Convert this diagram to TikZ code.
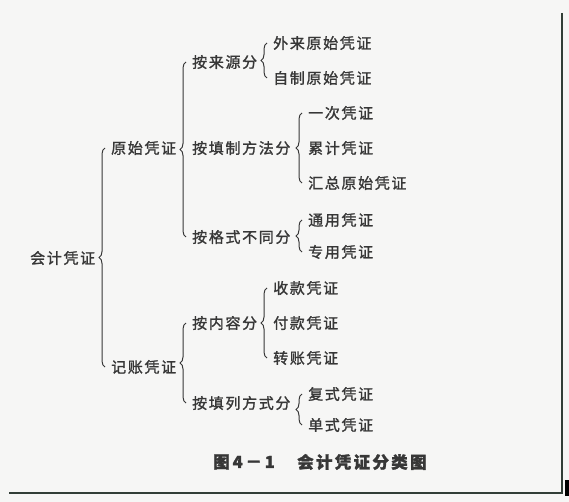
\documentclass[tikz,border=0pt]{standalone}
\usepackage{fontspec}
\newfontfamily\cjk[LetterSpace=11,FakeBold=1.4]{Noto Sans CJK SC}
\newfontfamily\cjkcap[LetterSpace=14,FakeBold=1.5]{Noto Sans CJK SC}
\usetikzlibrary{decorations.pathreplacing}
\definecolor{inkgray}{RGB}{55,55,55}
\definecolor{papergray}{RGB}{246,246,245}
\definecolor{framegray}{RGB}{50,62,55}

\begin{document}
\begin{tikzpicture}[x=1pt,y=-1pt]
        \tikzstyle{item} = [anchor=west,inner sep=0pt,text=inkgray,font=\cjk\fontsize{15}{15}\selectfont]
        \tikzstyle{caption} = [anchor=west,inner sep=0pt,text=inkgray,font=\cjkcap\bfseries\fontsize{16.5}{16.5}\selectfont]
        \tikzstyle{grp} = [draw=inkgray,line width=1pt,decorate,decoration={brace,amplitude=6pt}]
        \tikzstyle{frame} = [draw=framegray,line width=1.3pt]
        \fill[papergray] (0,0) rectangle (569,502);
        \useasboundingbox (0,0) rectangle (569,502);
        % root and first level
        \node[item] (kjpz) at (30,258) {会计凭证};
        \node[item] (yspz) at (111,148) {原始凭证};
        \node[item] (jzpz) at (111,367) {记账凭证};
        % second level
        \node[item] (alyf) at (192,62) {按来源分};
        \node[item] (atzf) at (192,148) {按填制方法分};
        \node[item] (agsf) at (192,237) {按格式不同分};
        \node[item] (anrf) at (192,323) {按内容分};
        \node[item] (atlf) at (192,403) {按填列方式分};
        % leaves
        \node[item] (wlys) at (273,43) {外来原始凭证};
        \node[item] (zzys) at (273,78) {自制原始凭证};
        \node[item] (ycpz) at (308,113) {一次凭证};
        \node[item] (ljpz) at (308,148) {累计凭证};
        \node[item] (hzys) at (308,183) {汇总原始凭证};
        \node[item] (typz) at (308,220) {通用凭证};
        \node[item] (zypz) at (308,252) {专用凭证};
        \node[item] (skpz) at (273,288) {收款凭证};
        \node[item] (fkpz) at (273,323) {付款凭证};
        \node[item] (zzpz) at (273,358) {转账凭证};
        \node[item] (fspz) at (308,394) {复式凭证};
        \node[item] (dspz) at (308,425) {单式凭证};
        % braces
        \draw[grp] ([xshift=-6pt]jzpz.west) -- ([xshift=-6pt]yspz.west);
        \draw[grp] ([xshift=-6pt]agsf.west) -- ([xshift=-6pt]alyf.west);
        \draw[grp] ([xshift=-6pt]atlf.west) -- ([xshift=-6pt]anrf.west);
        \draw[grp] ([xshift=-6pt]zzys.west) -- ([xshift=-6pt]wlys.west);
        \draw[grp] ([xshift=-6pt]hzys.west) -- ([xshift=-6pt]ycpz.west);
        \draw[grp] ([xshift=-6pt]zypz.west) -- ([xshift=-6pt]typz.west);
        \draw[grp] ([xshift=-6pt]zzpz.west) -- ([xshift=-6pt]skpz.west);
        \draw[grp] ([xshift=-6pt]dspz.west) -- ([xshift=-6pt]fspz.west);
        % caption
        \node[caption] (figno) at (213,462) {图\hspace{3pt}4\,－\,1};
        \node[caption] (figtitle) at (297,462) {会计凭证分类图};
        % page frame
        \coordinate (ftop) at (562,13);
        \coordinate (fcorner) at (562,493);
        \coordinate (fleft) at (9,493);
        \draw[frame] (ftop) -- (fcorner) -- (fleft);
        \fill[black] (565,480) rectangle (569,496);
       \end{tikzpicture}
\end{document}
